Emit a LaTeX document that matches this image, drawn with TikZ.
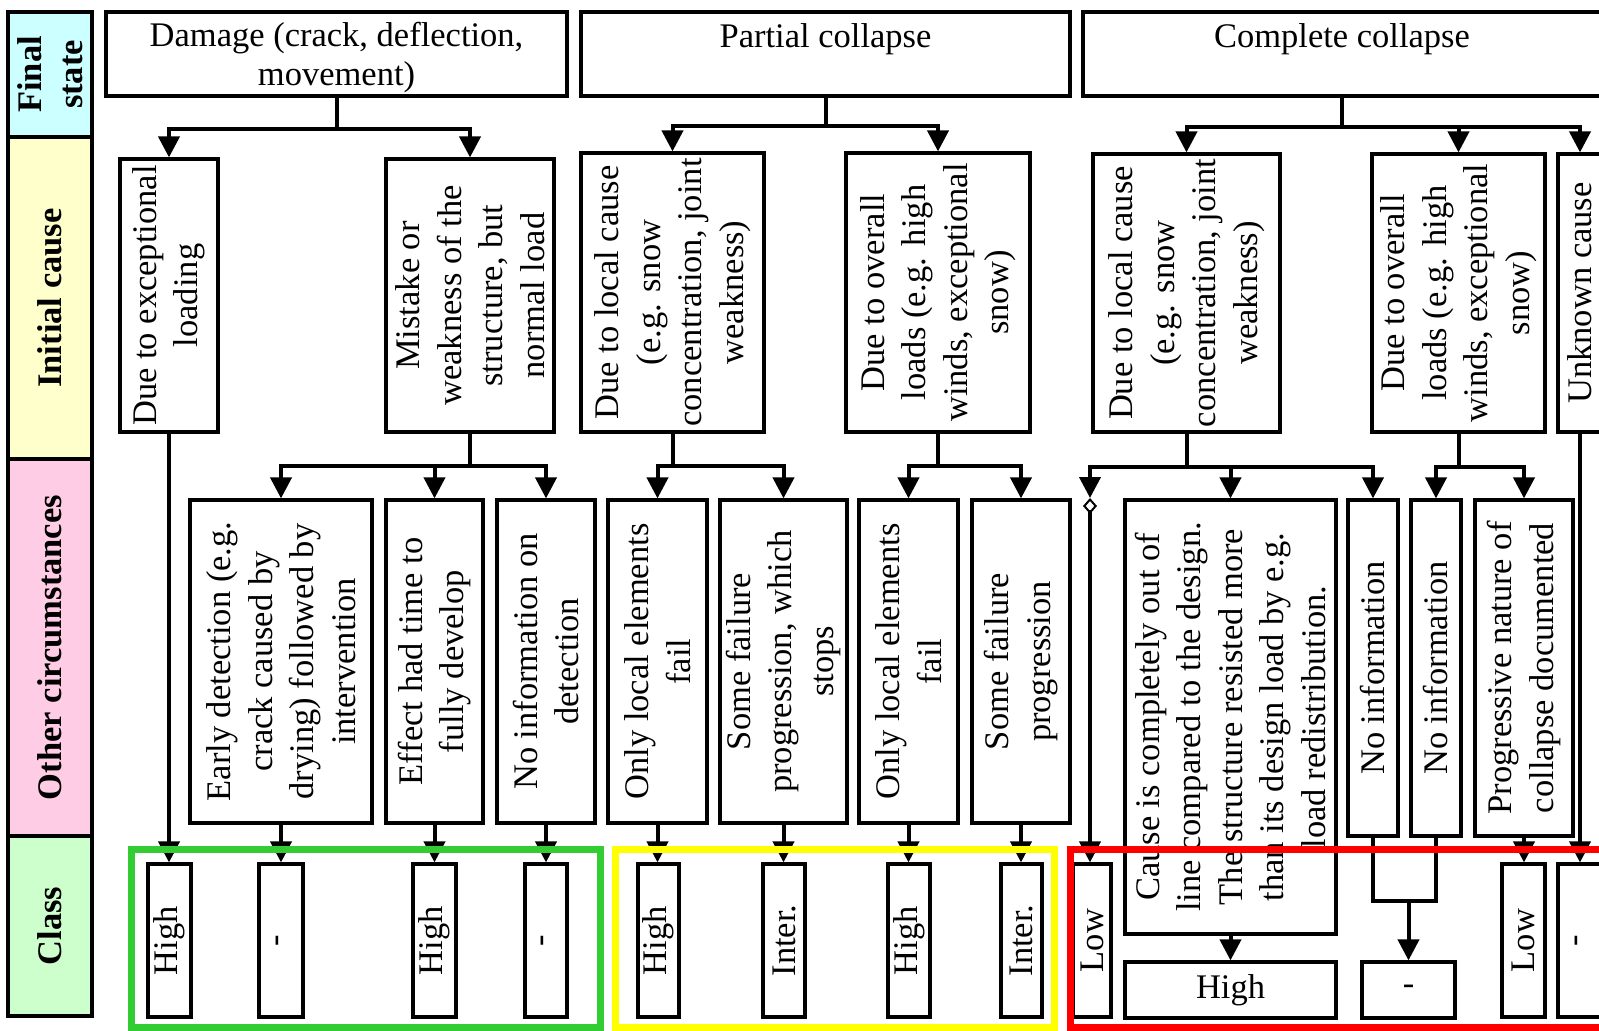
\documentclass[tikz,border=0pt]{standalone}
\usepackage{fontspec}
\setmainfont{Liberation Serif}
\usetikzlibrary{arrows.meta, positioning}
\definecolor{finalbg}{RGB}{204,255,255}
\definecolor{causebg}{RGB}{255,255,204}
\definecolor{otherbg}{RGB}{255,204,230}
\definecolor{classbg}{RGB}{204,255,204}
\definecolor{damageframe}{RGB}{50,205,50}
\definecolor{partialframe}{RGB}{255,255,0}
\definecolor{completeframe}{RGB}{255,0,0}
\newcommand\topstrut{\rule{0pt}{32pt}}
\newcommand\botstrut{\rule[-7pt]{0pt}{7pt}}

\begin{document}
\begin{tikzpicture}
    [x=1pt, y=-1pt,
    textbox/.style={draw, line width=3.2pt, fill=white, align=center, inner sep=0pt,
    font=\fontsize{34.5}{41.5}\selectfont},
    topbox/.style={textbox, minimum height=84pt, font=\fontsize{34.5}{39}\selectfont},
    rotbox/.style={textbox, rotate=90},
    band/.style={draw, line width=3.2pt, rotate=90, align=center, inner sep=0pt,
    minimum height=84pt, font=\bfseries\fontsize{34.5}{41.5}\selectfont},
    bus/.style={line width=4pt},
    arrow/.style={line width=4pt, -{Triangle[length=21pt, width=21pt]}},
    classframe/.style={line width=7pt}]
    \useasboundingbox (0,0) rectangle (1599,1031);
    \clip (0,0) rectangle (1599,1031);

    \node [band, fill=finalbg, minimum width=125pt] (final) at (50,74.5) {Final\\ state};
    \node [band, fill=causebg, minimum width=322pt] (initial) at (50,298) {Initial cause};
    \node [band, fill=otherbg, minimum width=377pt] (other) at (50,647.5) {Other circumstances};
    \node [band, fill=classbg, minimum width=180pt] (class) at (50,926) {Class};

    \node [topbox, minimum width=461pt] (damage) at (336.5,54)
    {\topstrut Damage (crack, deflection,\\ movement)\botstrut};
    \node [topbox, minimum width=489pt] (partial) at (825.5,54)
    {\topstrut Partial collapse\\ \botstrut};
    \node [topbox, minimum width=518pt] (complete) at (1342,54)
    {\topstrut Complete collapse\\ \botstrut};

    \node [rotbox, minimum width=273pt, minimum height=98pt] (exc) at (169,295.5)
    {Due to exceptional\\ loading};
    \node [rotbox, minimum width=273pt, minimum height=168pt] (mist) at (470,295.5)
    {Mistake or\\ weakness of the\\ structure, but\\ normal load};
    \node [rotbox, minimum width=279pt, minimum height=183pt] (ploc) at (672.5,292.5)
    {Due to local cause\\ (e.g. snow\\ concentration, joint\\ weakness)};
    \node [rotbox, minimum width=279pt, minimum height=184pt] (pover) at (938,292.5)
    {Due to overall\\ loads (e.g. high\\ winds, exceptional\\ snow)};
    \node [rotbox, minimum width=278pt, minimum height=187pt] (cloc) at (1186.5,293)
    {Due to local cause\\ (e.g. snow\\ concentration, joint\\ weakness)};
    \node [rotbox, minimum width=278pt, minimum height=173pt] (cover) at (1458.5,293)
    {Due to overall\\ loads (e.g. high\\ winds, exceptional\\ snow)};
    \node [rotbox, minimum width=278pt, minimum height=44pt] (unk) at (1580,293) {Unknown cause};

    \node [rotbox, minimum width=323pt, minimum height=182pt] (early) at (281,661.5)
    {Early detection (e.g.\\ crack caused by\\ drying) followed by\\ intervention};
    \node [rotbox, minimum width=323pt, minimum height=97pt] (effect) at (434.5,661.5)
    {Effect had time to\\ fully develop};
    \node [rotbox, minimum width=323pt, minimum height=98pt] (nidet) at (546,661.5)
    {No information on\\ detection};
    \node [rotbox, minimum width=323pt, minimum height=99pt] (oloca) at (657.5,661.5)
    {Only local elements\\ fail};
    \node [rotbox, minimum width=323pt, minimum height=127pt] (sstop) at (783.5,661.5)
    {Some failure\\ progression, which\\ stops};
    \node [rotbox, minimum width=323pt, minimum height=99pt] (olocb) at (908.5,661.5)
    {Only local elements\\ fail};
    \node [rotbox, minimum width=323pt, minimum height=98pt] (sprog) at (1021,661.5)
    {Some failure\\ progression};
    \node [rotbox, minimum width=434pt, minimum height=211pt] (cause) at (1230.5,717)
    {Cause is completely out of\\ line compared to the design.\\ The structure resisted more\\
    than its design load by e.g.\\ load redistribution.};
    \node [rotbox, minimum width=336pt, minimum height=50pt] (noinfa) at (1373,668) {No information};
    \node [rotbox, minimum width=336pt, minimum height=50pt] (noinfb) at (1436,668) {No information};
    \node [rotbox, minimum width=336pt, minimum height=98pt] (prog) at (1524,668)
    {Progressive nature of\\ collapse documented};

    \node [rotbox, minimum width=153pt, minimum height=43pt] (clsa) at (169.5,940.5) {High};
    \node [rotbox, minimum width=153pt, minimum height=44pt] (clsb) at (281,940.5) {-};
    \node [rotbox, minimum width=153pt, minimum height=43pt] (clsc) at (434.5,940.5) {High};
    \node [rotbox, minimum width=153pt, minimum height=42pt] (clsd) at (546,940.5) {-};
    \node [rotbox, minimum width=153pt, minimum height=41pt] (clse) at (658.5,940.5) {High};
    \node [rotbox, minimum width=153pt, minimum height=42pt] (clsf) at (784,940.5) {Inter.};
    \node [rotbox, minimum width=153pt, minimum height=42pt] (clsg) at (909,940.5) {High};
    \node [rotbox, minimum width=153pt, minimum height=41pt] (clsh) at (1021.5,940.5) {Inter.};
    \node [rotbox, minimum width=153pt, minimum height=38pt] (lowa) at (1092,940.5) {Low};
    \node [textbox, minimum width=211pt, minimum height=56pt] (highh) at (1230.5,990) {High};
    \node [textbox, minimum width=93pt, minimum height=56pt] (dashh) at (1408.5,990) {-};
    \node [rotbox, minimum width=153pt, minimum height=43pt] (lowb) at (1523.5,940.5) {Low};
    \node [rotbox, minimum width=153pt, minimum height=44pt] (dashb) at (1580,940.5) {-};
    \coordinate (dia) at (1090,498);

    \draw [arrow] (damage.south) -- ++(0,31) -| (exc.east);
    \draw [arrow] (damage.south) -- ++(0,31) -| (mist.east);
    \draw [arrow] (partial.south) -- ++(0,28) -| (ploc.east);
    \draw [arrow] (partial.south) -- ++(0,28) -| (pover.east);
    \draw [arrow] (complete.south) -- ++(0,29) -| (cloc.east);
    \draw [arrow] (complete.south) -- ++(0,29) -| (cover.east);
    \draw [arrow] (complete.south) -- ++(0,29) -| (unk.east);

    \draw [arrow] (mist.west) -- ++(0,32) -| (early.east);
    \draw [arrow] (mist.west) -- ++(0,32) -| (effect.east);
    \draw [arrow] (mist.west) -- ++(0,32) -| (nidet.east);
    \draw [arrow] (ploc.west) -- ++(0,32) -| (oloca.east);
    \draw [arrow] (ploc.west) -- ++(0,32) -| (sstop.east);
    \draw [arrow] (pover.west) -- ++(0,32) -| (olocb.east);
    \draw [arrow] (pover.west) -- ++(0,32) -| (sprog.east);
    \draw [arrow] (cloc.west) -- ++(0,33) -| (dia);
    \draw [arrow] (cloc.west) -- ++(0,33) -| (cause.east);
    \draw [arrow] (cloc.west) -- ++(0,33) -| (noinfa.east);
    \draw [arrow] (cover.west) -- ++(0,33) -| (noinfb.east);
    \draw [arrow] (cover.west) -- ++(0,33) -| (prog.east);

    \draw [arrow] (exc.west) -- (exc.west |- clsa.east);
    \draw [arrow] (early.west) -- (early.west |- clsb.east);
    \draw [arrow] (effect.west) -- (effect.west |- clsc.east);
    \draw [arrow] (nidet.west) -- (nidet.west |- clsd.east);
    \draw [arrow] (oloca.west) -- (oloca.west |- clse.east);
    \draw [arrow] (sstop.west) -- (sstop.west |- clsf.east);
    \draw [arrow] (olocb.west) -- (olocb.west |- clsg.east);
    \draw [arrow] (sprog.west) -- (sprog.west |- clsh.east);
    \draw [line width=4pt, {Diamond[open, length=16pt, width=14pt, line width=2pt]}-{Triangle[length=21pt,
    width=21pt]}] (dia) -- (dia |- lowa.east);
    \draw [arrow] (cause.west) -- (cause.west |- highh.north);
    \draw [bus] (noinfa.west) -- ++(0,63) coordinate (nijoin) -| (noinfb.west);
    \draw [arrow] (dashh.north |- nijoin) -- (dashh.north);
    \draw [arrow] (prog.west) -- (prog.west |- lowb.east);
    \draw [arrow] (unk.west) -- (unk.west |- dashb.east);

    \draw [classframe, draw=damageframe] (131.5,849) rectangle (600,1027.5);
    \draw [classframe, draw=partialframe] (615,849) rectangle (1054,1027.5);
    \draw [classframe, draw=completeframe] (1070.5,849) rectangle (1640,1027.5);
\end{tikzpicture}
\end{document}
